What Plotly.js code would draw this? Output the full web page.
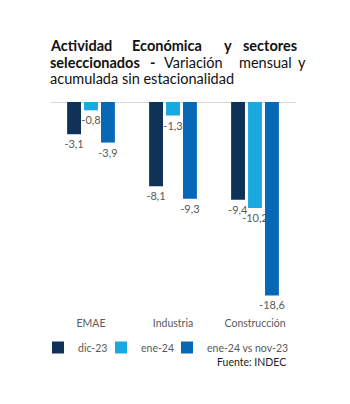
<!DOCTYPE html>
<html>
<head>
<meta charset="utf-8">
<script src="https://cdn.plot.ly/plotly-3.0.1.min.js"></script>
<style>html,body{margin:0;padding:0;background:#fff;}#chart{width:350px;height:404px;}</style>
</head>
<body>
<div id="chart"></div>
<script>
const categories = ["EMAE", "Industria", "Construcción"];
const seriesNames = ["dic-23", "ene-24", "ene-24 vs nov-23"];
const dic23 = [-3.1, -8.1, -9.4];
const ene24 = [-0.8, -1.3, -10.2];
const eneVsNov = [-3.9, -9.3, -18.6];
const colors = ["#0F3358", "#1AA8E0", "#0868B8"];

const L = 50, R = 296, T = 102, B = 310;
const W = 350, H = 404;
const px = x => (x - L) / (R - L);
const py = y => (B - y) / (B - T);

const font = "Lato, 'Open Sans', sans-serif";
const labelColor = "#595959";
const legendIds = ["legend", "legend2", "legend3"];
const legendX = [38, 101, 167];

function mk(vals, i) {
  return {
    type: "bar", x: categories, y: vals, name: seriesNames[i],
    legend: legendIds[i],
    marker: {color: colors[i]},
    texttemplate: "%{y:.1f}", textposition: "outside",
    textfont: {family: font, size: 11, color: labelColor},
    constraintext: "none", cliponaxis: false, hoverinfo: "skip"
  };
}
const data = [mk(dic23, 0), mk(ene24, 1), mk(eneVsNov, 2)];

const titleWords = [
  {t: "<b>Actividad</b>", x: 48, y: 45, a: "left"},
  {t: "<b>Económica</b>", x: 130, y: 45, a: "left"},
  {t: "<b>y</b>", x: 222, y: 45, a: "left"},
  {t: "<b>sectores</b>", x: 299, y: 45, a: "right"},
  {t: "<b>seleccionados</b>", x: 48, y: 62, a: "left"},
  {t: "<b>-</b>", x: 148, y: 62, a: "left"},
  {t: "Variación", x: 162, y: 62, a: "left"},
  {t: "mensual", x: 237, y: 62, a: "left"},
  {t: "y", x: 296, y: 62, a: "left"},
  {t: "acumulada sin estacionalidad", x: 48, y: 79, a: "left"}
];
const annotations = titleWords.map(w => ({
  text: w.t, xref: "paper", yref: "paper", x: px(w.x), y: py(w.y),
  xanchor: w.a, yanchor: "middle", showarrow: false,
  font: {family: font, size: 14.5, color: "#111111"}
}));
annotations.push({
  text: "Fuente: INDEC", xref: "paper", yref: "paper", x: px(288), y: py(362),
  xanchor: "right", yanchor: "middle", showarrow: false,
  font: {family: font, size: 10.5, color: "#222222"}
});

function leg(i) {
  return {orientation: "h", x: px(legendX[i]), xanchor: "left", y: py(333), yanchor: "top",
          font: {family: font, size: 10.5, color: labelColor}, itemwidth: 30,
          bgcolor: "rgba(0,0,0,0)"};
}

const layout = {
  width: W, height: H,
  margin: {l: L, r: W - R, t: T, b: H - B, pad: 0},
  paper_bgcolor: "#ffffff", plot_bgcolor: "#ffffff",
  separators: ",.",
  barmode: "group", bargap: 0.38, bargroupgap: 0.18,
  showlegend: true,
  legend: leg(0), legend2: leg(1), legend3: leg(2),
  xaxis: {type: "category", showgrid: false, showline: false, zeroline: false,
          ticks: "", ticklabelstandoff: 5,
          tickfont: {family: font, size: 10.5, color: labelColor}, fixedrange: true},
  yaxis: {range: [-20, 0], showgrid: false, showticklabels: false, ticks: "",
          zeroline: true, zerolinecolor: "#D9D9D9", zerolinewidth: 1, showline: false, fixedrange: true},
  annotations: annotations
};

Plotly.newPlot("chart", data, layout, {displayModeBar: false, staticPlot: true});
</script>
</body>
</html>
